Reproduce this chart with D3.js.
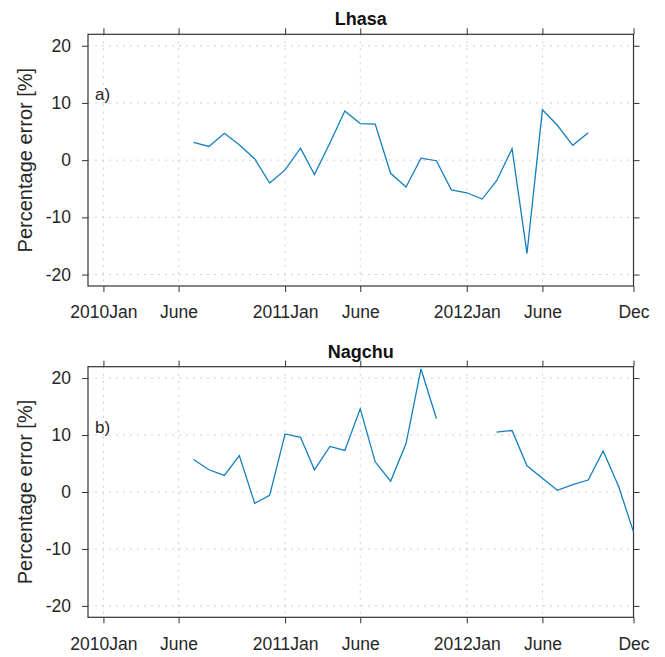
<!DOCTYPE html>
<html>
<head>
<meta charset="utf-8">
<script src="https://cdn.jsdelivr.net/npm/d3@7"></script>
<style>
  body { margin: 0; background: #fff; }
  text { font-family: "Liberation Sans", Arial, sans-serif; fill: #262626; }
  .tick text { font-size: 17.5px; }
  .title { font-size: 18px; font-weight: bold; fill: #111; }
  .ylabel { font-size: 20px; }
  .panel-tag { font-size: 17px; }
  .grid line { stroke: #cfcfcf; stroke-dasharray: 2,5; }
</style>
</head>
<body>
<div id="chart"></div>
<script>
// Monthly percentage error, Jul 2010 .. Dec 2012
const months = [
  "2010-07", "2010-08", "2010-09", "2010-10", "2010-11", "2010-12",
  "2011-01", "2011-02", "2011-03", "2011-04", "2011-05", "2011-06",
  "2011-07", "2011-08", "2011-09", "2011-10", "2011-11", "2011-12",
  "2012-01", "2012-02", "2012-03", "2012-04", "2012-05", "2012-06",
  "2012-07", "2012-08", "2012-09", "2012-10", "2012-11", "2012-12"
];
const lhasa = [
  3.1, 2.4, 4.7, 2.7, 0.2, -4.0,
  -1.7, 2.1, -2.5, 3.0, 8.6, 6.4,
  6.3, -2.3, -4.7, 0.35, -0.1, -5.2,
  -5.7, -6.8, -3.6, 2.0, -16.3, 8.8,
  6.1, 2.6, 4.8, null, null, null
];
const nagchu = [
  5.7, 3.9, 2.9, 6.4, -2.0, -0.6,
  10.2, 9.6, 3.9, 8.0, 7.3, 14.6,
  5.3, 1.9, 8.5, 21.6, 12.9, null,
  null, null, 10.5, 10.8, 4.6, 2.4,
  0.3, 1.3, 2.1, 7.2, 1.0, -7.0
];
const xTickDates = ["2010-01", "2010-06", "2011-01", "2011-06", "2012-01", "2012-06", "2012-12"];
const xTickLabels = ["2010Jan", "June", "2011Jan", "June", "2012Jan", "June", "Dec"];
const yTicks = [-20, -10, 0, 10, 20];
const yDomain = [-22, 22];
const xDomain = ["2009-12", "2012-12"];

document.addEventListener("DOMContentLoaded", function() {
    const width = 665, height = 657;
    const parseMonth = d3.utcParse("%Y-%m");

    const svg = d3.select("#chart").append("svg")
        .attr("width", width)
        .attr("height", height);

    const x = d3.scaleUtc()
        .domain(xDomain.map(parseMonth))
        .range([88, 633.5]);

    const tickDates = xTickDates.map(parseMonth);
    const dates = months.map(parseMonth);

    function drawPanel(name, tag, values, top, bottom) {
        const y = d3.scaleLinear().domain(yDomain).range([bottom, top]);
        const g = svg.append("g");
        const x0 = x.range()[0], x1 = x.range()[1];

        // dotted grid
        const grid = g.append("g").attr("class", "grid");
        grid.selectAll(".vg").data(tickDates).join("line")
            .attr("x1", d => x(d)).attr("x2", d => x(d))
            .attr("y1", top).attr("y2", bottom);
        grid.selectAll(".hg").data(yTicks).join("line")
            .attr("x1", x0).attr("x2", x1)
            .attr("y1", d => y(d)).attr("y2", d => y(d));

        const fmtX = d => xTickLabels[tickDates.findIndex(t => +t === +d)];

        // bottom axis with labels
        g.append("g")
            .attr("transform", "translate(0," + bottom + ")")
            .call(d3.axisBottom(x).tickValues(tickDates).tickFormat(fmtX).tickSize(6).tickPadding(14).tickSizeOuter(0))
            .call(a => a.select(".domain").remove());
        // top axis, ticks only
        g.append("g")
            .attr("transform", "translate(0," + top + ")")
            .call(d3.axisTop(x).tickValues(tickDates).tickFormat("").tickSize(6).tickSizeOuter(0))
            .call(a => a.select(".domain").remove());
        // left axis
        g.append("g")
            .attr("transform", "translate(" + x0 + ",0)")
            .call(d3.axisLeft(y).tickValues(yTicks).tickFormat(d => String(d)).tickSize(6).tickPadding(11).tickSizeOuter(0))
            .call(a => a.select(".domain").remove());
        // right axis, ticks only
        g.append("g")
            .attr("transform", "translate(" + x1 + ",0)")
            .call(d3.axisRight(y).tickValues(yTicks).tickFormat("").tickSize(6).tickSizeOuter(0))
            .call(a => a.select(".domain").remove());

        g.selectAll(".tick line").attr("stroke", "#333");
        g.selectAll(".tick text").attr("fill", "#262626");

        // box
        g.append("rect")
            .attr("x", x0).attr("y", top)
            .attr("width", x1 - x0).attr("height", bottom - top)
            .attr("fill", "none")
            .attr("stroke", "#333")
            .attr("stroke-width", 1.2);

        const line = d3.line()
            .defined(d => d[1] != null)
            .x(d => x(d[0]))
            .y(d => y(d[1]));

        g.append("path")
            .datum(dates.map((d, i) => [d, values[i]]))
            .attr("fill", "none")
            .attr("stroke", "#137fbf")
            .attr("stroke-width", 1.3)
            .attr("d", line);

        g.append("text")
            .attr("class", "title")
            .attr("x", (x0 + x1) / 2)
            .attr("y", top - 9)
            .attr("text-anchor", "middle")
            .text(name);

        g.append("text")
            .attr("class", "panel-tag")
            .attr("x", 95)
            .attr("y", top + 66)
            .text(tag);

        g.append("text")
            .attr("class", "ylabel")
            .attr("transform", "translate(32," + ((top + bottom) / 2) + ") rotate(-90)")
            .attr("text-anchor", "middle")
            .text("Percentage error [%]");
    }

    drawPanel("Lhasa", "a)", lhasa, 34.3, 286);
    drawPanel("Nagchu", "b)", nagchu, 366.7, 617.3);
});
</script>
</body>
</html>
